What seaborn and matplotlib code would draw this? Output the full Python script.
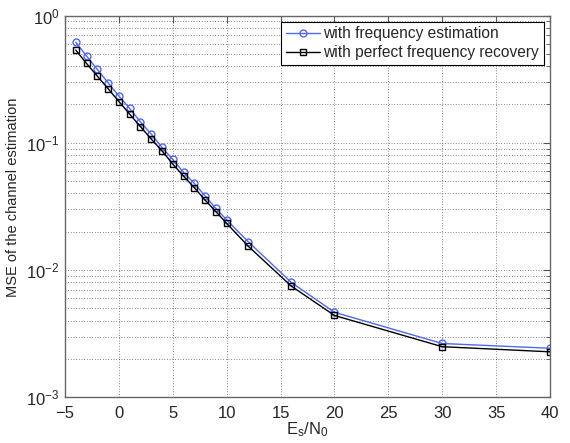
import matplotlib
matplotlib.use("Agg")
import matplotlib.pyplot as plt
import seaborn as sns
import pandas as pd
from matplotlib.ticker import LogLocator, NullFormatter

snr = [-4, -3, -2, -1, 0, 1, 2, 3, 4, 5, 6, 7, 8, 9, 10, 12, 16, 20, 30, 40]
mse_freq_est = [0.618, 0.48, 0.377, 0.296, 0.233, 0.186, 0.146, 0.117, 0.092, 0.074,
                0.0585, 0.0480, 0.0382, 0.0305, 0.0248, 0.0167, 0.0080, 0.00466, 0.00265, 0.00243]
mse_perfect = [0.535, 0.42, 0.334, 0.266, 0.211, 0.168, 0.134, 0.107, 0.0865, 0.068,
               0.0547, 0.0444, 0.0355, 0.0288, 0.0233, 0.0154, 0.00748, 0.0044, 0.0025, 0.00228]
labels = ["with frequency estimation", "with perfect frequency recovery"]

sns.set_style("white")
plt.rcParams['font.family'] = ['Liberation Sans', 'DejaVu Sans']
plt.rcParams['mathtext.fontset'] = 'custom'
plt.rcParams['mathtext.rm'] = 'Liberation Sans'
plt.rcParams['mathtext.it'] = 'Liberation Sans'

df1 = pd.DataFrame({"x": snr, "y": mse_freq_est})
df2 = pd.DataFrame({"x": snr, "y": mse_perfect})

fig = plt.figure(figsize=(5.7, 4.43), dpi=100)
ax = fig.add_axes([0.114, 0.103, 0.851, 0.862])

sns.lineplot(data=df1, x="x", y="y", ax=ax, color="#5068f0", lw=1.0, marker="o",
             markersize=5, markerfacecolor="none", markeredgecolor="#5068f0",
             markeredgewidth=1.0, label=labels[0])
sns.lineplot(data=df2, x="x", y="y", ax=ax, color="black", lw=1.0, marker="s",
             markersize=5, markerfacecolor="none", markeredgecolor="black",
             markeredgewidth=1.0, label=labels[1])

ax.set_yscale("log")
ax.set_xlim(-5, 40)
ax.set_ylim(1e-3, 1)
ax.set_xticks(range(-5, 41, 5))
ax.yaxis.set_major_locator(LogLocator(base=10, numticks=10))
ax.yaxis.set_minor_locator(LogLocator(base=10, subs=range(2, 10), numticks=20))
ax.yaxis.set_minor_formatter(NullFormatter())

ax.grid(True, which="major", axis="both", linestyle=(0, (1, 2.5)), color="#444444", lw=0.55)
ax.grid(True, which="minor", axis="y", linestyle=(0, (1, 2.5)), color="#444444", lw=0.55)

ax.tick_params(axis="both", which="both", direction="in", labelsize=12, top=True, right=True,
               color="#555555")
ax.tick_params(which="major", length=5)
ax.tick_params(which="minor", length=3)
ax.tick_params(axis="x", pad=6)
ax.tick_params(axis="y", pad=4)
for s in ax.spines.values():
    s.set_color("#666666")
    s.set_linewidth(1.0)

ax.set_xlabel(r"E$_\mathrm{s}$/N$_\mathrm{0}$", fontsize=12, labelpad=0)
ax.set_ylabel("MSE of the channel estimation", fontsize=10.5)
ax.yaxis.set_label_coords(-0.093, 0.524)

leg = ax.legend(loc="upper right", fontsize=11.2, fancybox=False, framealpha=1,
                edgecolor="black", borderaxespad=0.4, handlelength=2.2,
                borderpad=0.3, labelspacing=0.25, handletextpad=0.2)
leg.get_frame().set_linewidth(0.8)

fig.savefig("out.png", dpi=100)
